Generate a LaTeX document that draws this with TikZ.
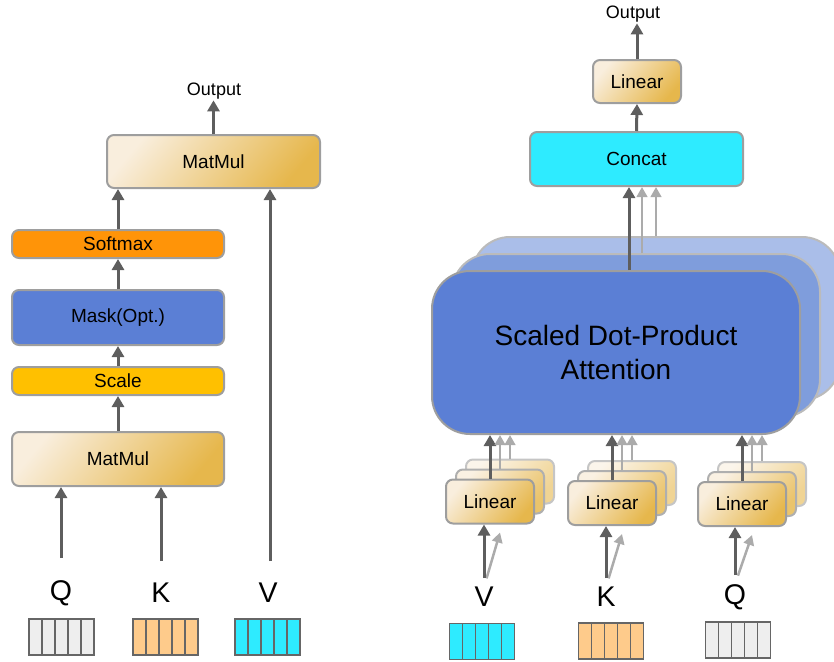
\documentclass[tikz,border=0pt]{standalone}
\usepackage{fontspec}
\setmainfont{Liberation Sans}
\usetikzlibrary{arrows.meta}

\definecolor{boxline}{HTML}{9E9E9E}
\definecolor{creamlt}{HTML}{F9EEDD}
\definecolor{golddk}{HTML}{E6B74C}
\definecolor{softorange}{HTML}{FF9408}
\definecolor{maskblue}{HTML}{5B7FD5}
\definecolor{scaleyellow}{HTML}{FFC000}
\definecolor{concatcyan}{HTML}{2EEBFF}
\definecolor{layermid}{HTML}{7F9DDC}
\definecolor{layerback}{HTML}{AABEE9}
\definecolor{arrowdk}{HTML}{5E5E5E}
\definecolor{arrowlt}{HTML}{ABABAB}
\definecolor{vecline}{HTML}{666666}
\definecolor{vecgrey}{HTML}{EEEEEE}
\definecolor{vecorange}{HTML}{FECB8B}

\tikzset{
  box/.style={draw=boxline, line width=2pt, rounded corners=7pt, inner sep=0pt,
    font=\fontsize{19}{22}\selectfont},
  goldbox/.style={box, shading=axis, left color=creamlt, right color=golddk, shading angle=50},
  goldfade/.style={box, draw=boxline!#1, shading=axis, left color=creamlt!#1!white,
    right color=golddk!#1!white, shading angle=50},
  layer/.style={box, draw=boxline!70, rounded corners=38pt, minimum width=368pt, minimum height=163pt},
  vec/.style={draw=vecline, line width=1.5pt, minimum width=65pt, minimum height=36pt, inner sep=0pt,
    path picture={\foreach \i in {1,...,4}
      \draw[vecline, line width=1.5pt] ([xshift=\i*13pt]path picture bounding box.south west)
        -- ([xshift=\i*13pt]path picture bounding box.north west);}},
  lbl/.style={font=\fontsize{18}{20}\selectfont, inner sep=1pt},
  qkv/.style={font=\fontsize{28.5}{30}\selectfont, inner sep=0pt},
  arr/.style={draw=arrowdk, line width=3pt, -{Triangle[width=12pt,length=11pt]}},
  garr/.style={draw=arrowlt, line width=2.5pt, -{Triangle[width=10.5pt,length=10pt]}}
}

\begin{document}
\begin{tikzpicture}[x=1pt, y=-1pt]
  \useasboundingbox (0,0) rectangle (834,661);
  \clip (0,0) rectangle (834,661);

  % left: scaled dot-product attention
  \node[goldbox, minimum width=213pt, minimum height=53pt] (mm2) at (213.5,161.5) {MatMul};
  \node[box, fill=softorange, minimum width=212pt, minimum height=28pt] (soft) at (118,244) {Softmax};
  \node[box, fill=maskblue, minimum width=212pt, minimum height=55pt] (mask) at (118,317.5) {Mask(Opt.)};
  \node[box, fill=scaleyellow, minimum width=212pt, minimum height=28pt] (scale) at (118,381) {Scale};
  \node[goldbox, minimum width=212pt, minimum height=54pt] (mm1) at (118,459) {MatMul};
  \node[lbl] (out1) at (214,91) {Output};
  \foreach \n/\t/\x/\vx/\c in {q/Q/61/61.5/vecgrey, k/K/161/165.5/vecorange, v/V/268/267.5/concatcyan}{
    \node[qkv] (\n1) at (\x,593) {\t};
    \node[vec, fill=\c] (\n1v) at (\vx,637) {};
  }
  \draw[arr] (mm1.north) -- (scale.south);
  \draw[arr] (scale.north) -- (mask.south);
  \draw[arr] (mask.north) -- (soft.south);
  \draw[arr] (soft.north) -- (soft.north |- mm2.south);
  \draw[arr] (mm2.north) -- (mm2.north |- out1.south);
  \draw[arr, shorten <=22pt] (q1.north) -- (q1.north |- mm1.south);
  \draw[arr, shorten <=22pt] (k1.north) -- (k1.north |- mm1.south);
  \draw[arr, shorten <=22pt] ([xshift=2pt]v1.north) -- ([xshift=2pt]v1.north |- mm2.south);

  % right: multi-head attention
  \node[layer, fill=layerback] (sdpa3) at (656,318.5) {};
  \node[layer, fill=layermid] (sdpa2) at (636,335.5) {};
  \node[layer, draw=boxline, fill=maskblue, align=center, font=\fontsize{28}{34}\selectfont]
    (sdpa1) at (616,352.5) {Scaled Dot-Product\\Attention};
  \node[box, fill=concatcyan, minimum width=213pt, minimum height=54pt] (concat) at (636.5,159) {Concat};
  \node[goldbox, minimum width=88pt, minimum height=43pt] (lin0) at (637,81.5) {Linear};
  \node[lbl] (out2) at (633,14) {Output};
  \draw[arr] (concat.north) -- (lin0.south);
  \draw[arr] (lin0.north) -- (lin0.north |- out2.south);
  \draw[arr] (629,0 |- sdpa1.north) -- (629,0 |- concat.south);
  \draw[garr] (642,0 |- sdpa2.north) -- (642,0 |- concat.south);
  \draw[garr] (656,0 |- sdpa3.north) -- (656,0 |- concat.south);

  \foreach \n/\t/\x/\y/\lx/\vx/\vy/\c in {v/V/490/501.5/484/482/641.5/concatcyan,
      k/K/612/503/606/611/641/vecorange, q/Q/742/504/735/738/640/vecgrey}{
    \node[goldfade=60, minimum width=88pt, minimum height=44pt] (l\n3) at (\x+20,\y-20) {};
    \node[goldfade=82, minimum width=88pt, minimum height=44pt] (l\n2) at (\x+10,\y-10) {};
    \node[goldbox, minimum width=88pt, minimum height=44pt] (l\n1) at (\x,\y) {Linear};
    \node[qkv] (\n2) at (\lx,597) {\t};
    \node[vec, fill=\c] (\n2v) at (\vx,\vy) {};
    \draw[arr] (l\n1.north) -- (l\n1.north |- sdpa1.south);
    \draw[garr] (l\n2.north) -- (l\n2.north |- sdpa1.south);
    \draw[garr] (l\n3.north) -- (l\n3.north |- sdpa1.south);
    \draw[garr, shorten <=9pt] (\n2.north) -- ([yshift=-18pt]l\n2.south);
    \draw[arr, shorten <=9pt] (\n2.north) -- (\n2.north |- l\n1.south);
  }
\end{tikzpicture}
\end{document}
